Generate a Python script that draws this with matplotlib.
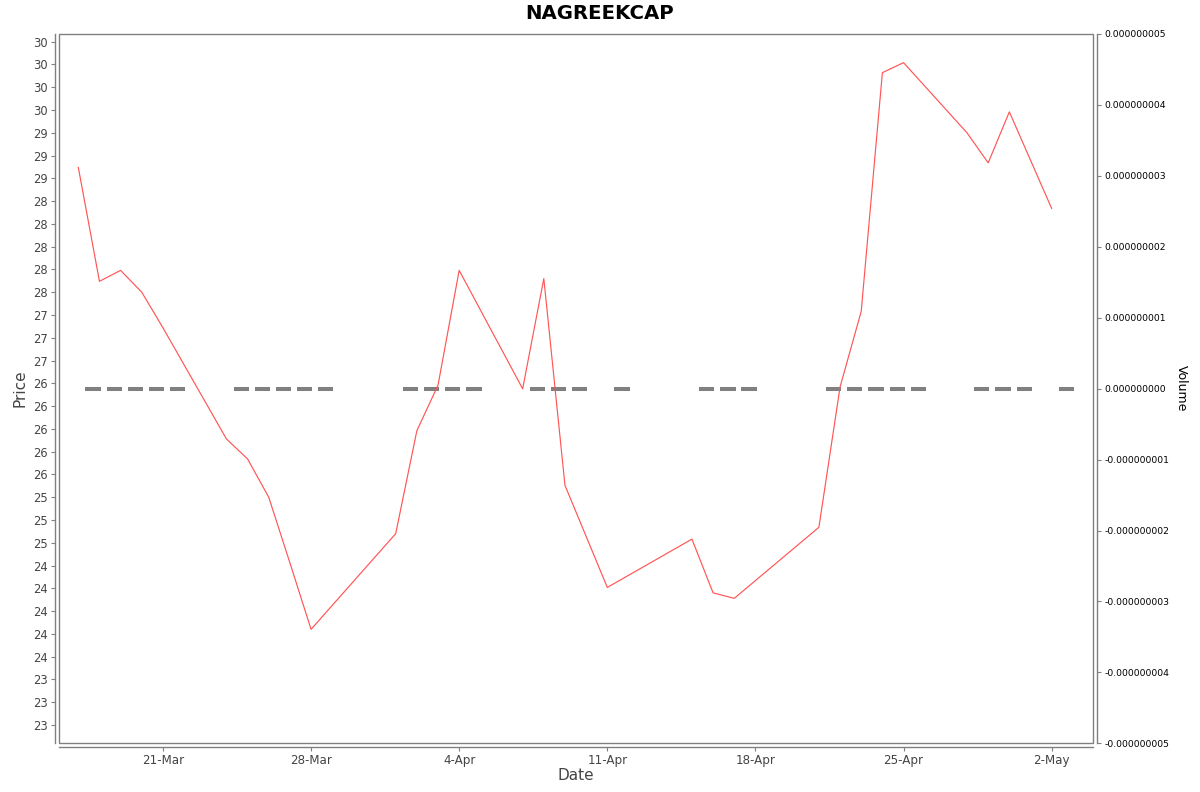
import matplotlib
matplotlib.use("Agg")
import matplotlib.pyplot as plt
import matplotlib.dates as mdates
from matplotlib.ticker import FixedLocator, FormatStrFormatter
from matplotlib.patches import Rectangle
import numpy as np

# ---- data ----
dates = ["2025-03-17", "2025-03-18", "2025-03-19", "2025-03-20", "2025-03-21",
         "2025-03-24", "2025-03-25", "2025-03-26", "2025-03-27", "2025-03-28",
         "2025-04-01", "2025-04-02", "2025-04-03", "2025-04-04",
         "2025-04-07", "2025-04-08", "2025-04-09", "2025-04-11",
         "2025-04-15", "2025-04-16", "2025-04-17",
         "2025-04-21", "2025-04-22", "2025-04-23", "2025-04-24", "2025-04-25",
         "2025-04-28", "2025-04-29", "2025-04-30", "2025-05-02"]
prices = [28.87, 27.62, 27.74, 27.50, 27.11,
          25.89, 25.67, 25.25, 24.53, 23.80,
          24.85, 25.98, 26.48, 27.74,
          26.44, 27.65, 25.38, 24.26,
          24.79, 24.20, 24.14,
          24.92, 26.46, 27.29, 29.91, 30.02,
          29.25, 28.92, 29.48, 28.42]
volumes = [0.0] * len(dates)

price_ticks = [22.75 + 0.25 * i for i in range(31)]
volume_ticks = [i * 1e-9 for i in range(-5, 6)]
date_ticks = ["2025-03-21", "2025-03-28", "2025-04-04", "2025-04-11",
              "2025-04-18", "2025-04-25", "2025-05-02"]

title = "NAGREEKCAP"

# ---- figure ----
W, H = 1200, 792
fig = plt.figure(figsize=(W / 100, H / 100), dpi=100)
left, right, top, bottom = 59, 1093, 34, 743.3
ax = fig.add_axes([left / W, 1 - bottom / H, (right - left) / W, (bottom - top) / H])
ax2 = ax.twinx()
ax.set_zorder(ax2.get_zorder() + 1)
ax.patch.set_visible(False)

x = mdates.date2num(np.array(dates, dtype="datetime64[D]"))
x0 = x[0]
day_px = 21.16
ax.set_xlim(x0 - (78.3 - left) / day_px, x0 + (right - 78.3) / day_px)
ax.set_ylim(22.549, 30.3345)

# price line
ax.plot(x, prices, color="#ff5555", linewidth=0.85, zorder=3)

# volume bars (zero height -> drawn as dashes)
ax2.bar(x + 0.34, volumes, width=0.72, align="edge", bottom=0,
        color="#808080", edgecolor="#808080", linewidth=2.9, zorder=2)
ax2.set_ylim(-5e-9, 5e-9)
ax2.set_xlim(ax.get_xlim())

# ticks
ax.yaxis.set_major_locator(FixedLocator(price_ticks))
ax.yaxis.set_major_formatter(FormatStrFormatter("%.0f"))
ax.xaxis.set_major_locator(FixedLocator(mdates.date2num(np.array(date_ticks, dtype="datetime64[D]"))))
ax.xaxis.set_major_formatter(mdates.DateFormatter("%-d-%b"))
ax2.yaxis.set_major_locator(FixedLocator(volume_ticks))
ax2.yaxis.set_major_formatter(FormatStrFormatter("%.9f"))

gray = "#808080"
txt = "#444444"
ax.tick_params(axis="y", direction="out", length=3, width=0.8, color=gray,
               labelsize=8.3, labelcolor=txt, pad=2)
ax.tick_params(axis="x", direction="out", length=3, width=0.8, color=gray,
               labelsize=8.6, labelcolor=txt, pad=2)
ax2.tick_params(axis="y", direction="out", length=3, width=0.8, color=gray,
                labelsize=6.7, labelcolor="black", pad=2)

# spines: offset axis lines + plot box
for s in ["top", "right"]:
    ax.spines[s].set_visible(False)
for s in ["left", "bottom"]:
    ax.spines[s].set_position(("outward", 3))
    ax.spines[s].set_color(gray)
    ax.spines[s].set_linewidth(1.0)
for s in ["left", "top", "bottom"]:
    ax2.spines[s].set_visible(False)
ax2.spines["right"].set_position(("outward", 3))
ax2.spines["right"].set_color(gray)
ax2.spines["right"].set_linewidth(1.0)
ax.add_patch(Rectangle((0, 0), 1, 1, transform=ax.transAxes, fill=False,
                       edgecolor=gray, linewidth=1.0, clip_on=False, zorder=5))

# labels
ax.set_ylabel("Price", fontsize=11, color=txt, va="center")
ax.yaxis.set_label_coords((20 - left) / (right - left), 0.5)
ax.set_xlabel("Date", fontsize=11, color=txt, va="center")
ax.xaxis.set_label_coords(0.5, (bottom - 776) / (bottom - top))
ax2.set_ylabel("Volume", fontsize=9, color="black", rotation=-90, va="center")
ax2.yaxis.set_label_coords((1181 - left) / (right - left), 0.5)

fig.text(0.5, 1 - 13.5 / H, title, ha="center", va="center",
         fontsize=14.2, fontweight="bold", color="black")

fig.savefig("out.png", dpi=100)
